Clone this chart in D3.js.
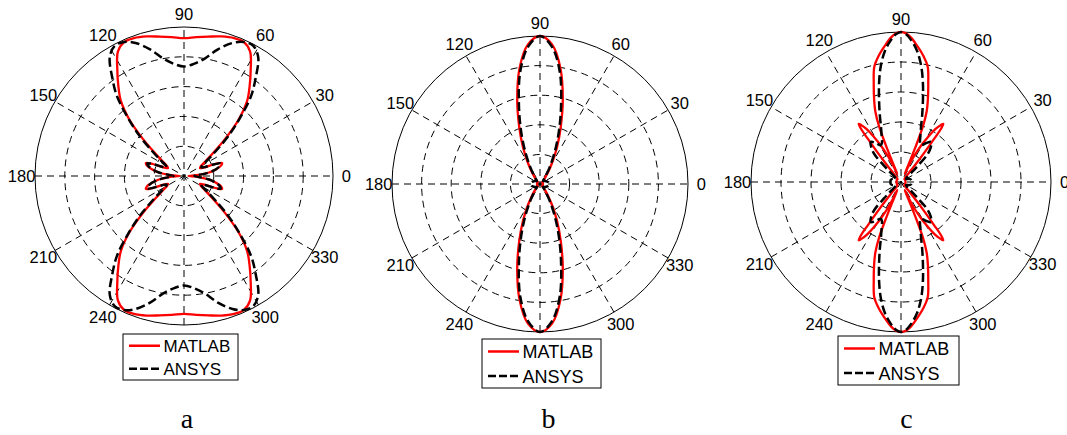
<!DOCTYPE html>
<html>
<head>
<meta charset="utf-8">
<script src="https://cdn.jsdelivr.net/npm/d3@7"></script>
<style>
  html, body { margin: 0; padding: 0; background: #fff; }
  svg { display: block; }
  .tick { font-family: "Liberation Sans", Arial, sans-serif; font-size: 16.5px; fill: #000; }
  .leg { font-family: "Liberation Sans", Arial, sans-serif; fill: #000; }
  .panel-label { font-family: "Liberation Serif", "Times New Roman", serif; font-size: 28px; fill: #000; }
</style>
</head>
<body>
<svg id="chart" width="1067" height="435"></svg>
<script>
// angle labels (270 sits under the legend) and grid rings (fraction of max radius)
const angleTicks = [0, 30, 60, 90, 120, 150, 180, 210, 240, 300, 330];
const spokeAngles = [0, 30, 60, 90, 120, 150];
const ringLevels = [0.2, 0.4, 0.6, 0.8];
const seriesNames = ["MATLAB", "ANSYS"];
const panelNames = ["a", "b", "c"];

// patterns are symmetric, values read for the first quadrant (0..90 deg)
// panel a
const aAngles = [0, 4, 8, 12, 16, 19, 21, 23, 26, 30, 34, 38, 42, 46, 50, 54, 58, 62, 66, 70, 75, 80, 85, 90];
const aMatlab = [0.03, 0.10, 0.17, 0.22, 0.26, 0.27, 0.22, 0.15, 0.12, 0.13, 0.17, 0.24, 0.37, 0.53, 0.66, 0.75, 0.845, 0.945, 0.985, 0.985, 0.97, 0.95, 0.935, 0.925];
const aAnsys  = [0.07, 0.10, 0.17, 0.22, 0.25, 0.26, 0.22, 0.16, 0.13, 0.14, 0.19, 0.27, 0.40, 0.54, 0.70, 0.82, 0.94, 0.99, 0.985, 0.95, 0.88, 0.80, 0.755, 0.735];

// panel b
const bAngles = [0, 10, 20, 30, 40, 45, 50, 55, 60, 65, 70, 75, 80, 85, 90];
const bMatlab = [0.02, 0.02, 0.02, 0.02, 0.02, 0.03, 0.05, 0.09, 0.16, 0.27, 0.41, 0.595, 0.795, 0.945, 1.0];
const bAnsys  = [0.06, 0.06, 0.05, 0.04, 0.03, 0.03, 0.04, 0.07, 0.13, 0.23, 0.37, 0.55, 0.77, 0.93, 1.0];

// panel c
const cMatlabAngles = [0, 10, 20, 30, 40, 46, 49, 50.5, 51.5, 52.5, 53, 54, 55, 57, 59, 61, 63, 64.5, 65.5, 66.5, 67.5, 68.5, 70, 72, 74.5, 77, 80, 83, 86, 88, 90];
const cMatlab       = [0.03, 0.03, 0.03, 0.03, 0.03, 0.04, 0.08, 0.16, 0.25, 0.36, 0.44, 0.48, 0.465, 0.42, 0.35, 0.28, 0.20, 0.12, 0.06, 0.10, 0.25, 0.40, 0.50, 0.58, 0.68, 0.79, 0.855, 0.91, 0.965, 0.99, 1.0];
const cAnsysAngles  = [0, 10, 20, 30, 38, 42, 44, 46, 49, 53, 57, 61, 64, 67, 70, 72.5, 75, 77.5, 80, 83, 86, 88, 90];
const cAnsys        = [0.07, 0.07, 0.06, 0.04, 0.05, 0.10, 0.16, 0.25, 0.30, 0.335, 0.31, 0.28, 0.29, 0.33, 0.39, 0.47, 0.565, 0.675, 0.78, 0.88, 0.95, 0.985, 1.0];

// layout of the three panels (centre, radius, legend box)
const panels = [
  { cx: 184, cy: 176, R: 149, lx: 123, ly: 334, lw: 115, lh: 46, fs: 17, labelX: 187,
    red: [aAngles, aMatlab], black: [aAngles, aAnsys] },
  { cx: 540, cy: 184, R: 148, lx: 482, ly: 339, lw: 119, lh: 49, fs: 18, labelX: 548.5,
    red: [bAngles, bMatlab], black: [bAngles, bAnsys] },
  { cx: 901, cy: 182, R: 150, lx: 838, ly: 336, lw: 121, lh: 49, fs: 18, labelX: 906.5,
    red: [cMatlabAngles, cMatlab], black: [cAnsysAngles, cAnsys] }
];

const svg = d3.select("#chart");
svg.append("rect").attr("width", 1067).attr("height", 435).attr("fill", "#fff");

// build the full 0..360 turn from the first quadrant values
function fullTurn(angles, radii) {
  const pts = [];
  const n = angles.length;
  for (let i = 0; i < n; i++) pts.push([angles[i], radii[i]]);
  for (let i = n - 2; i >= 0; i--) pts.push([180 - angles[i], radii[i]]);
  for (let i = 1; i < n; i++) pts.push([180 + angles[i], radii[i]]);
  for (let i = n - 2; i > 0; i--) pts.push([360 - angles[i], radii[i]]);
  return pts;
}

const rad = d => d * Math.PI / 180;

panels.forEach((p, k) => {
  const r = d3.scaleLinear().domain([0, 1]).range([0, p.R]);
  const g = svg.append("g").attr("transform", `translate(${p.cx},${p.cy})`);

  // dashed rings
  g.selectAll(".ring")
    .data(ringLevels)
    .enter()
    .append("circle")
    .attr("r", d => r(d))
    .attr("fill", "none")
    .attr("stroke", "#000")
    .attr("stroke-width", 1)
    .attr("stroke-dasharray", "7,5");

  // dashed spokes every 30 deg
  g.selectAll(".spoke")
    .data(spokeAngles)
    .enter()
    .append("line")
    .attr("x1", d => -r(1) * Math.cos(rad(d)))
    .attr("y1", d => r(1) * Math.sin(rad(d)))
    .attr("x2", d => r(1) * Math.cos(rad(d)))
    .attr("y2", d => -r(1) * Math.sin(rad(d)))
    .attr("stroke", "#000")
    .attr("stroke-width", 1)
    .attr("stroke-dasharray", "7,5");

  // outer circle
  g.append("circle")
    .attr("r", r(1))
    .attr("fill", "none")
    .attr("stroke", "#000")
    .attr("stroke-width", 1);

  // angle labels
  g.selectAll(".tick")
    .data(angleTicks)
    .enter()
    .append("text")
    .attr("class", "tick")
    .attr("x", d => r(1.09) * Math.cos(rad(d)))
    .attr("y", d => -r(1.09) * Math.sin(rad(d)))
    .attr("text-anchor", "middle")
    .attr("dominant-baseline", "central")
    .text(d => d);

  const line = d3.lineRadial()
    .angle(d => rad(90 - d[0]))
    .radius(d => r(d[1]))
    .curve(d3.curveCatmullRomClosed.alpha(0.5));

  g.append("path")
    .attr("d", line(fullTurn(p.red[0], p.red[1])))
    .attr("fill", "none")
    .attr("stroke", "#ff0000")
    .attr("stroke-width", 2.3)
    .attr("stroke-linejoin", "round");

  g.append("path")
    .attr("d", line(fullTurn(p.black[0], p.black[1])))
    .attr("fill", "none")
    .attr("stroke", "#000")
    .attr("stroke-width", 2.5)
    .attr("stroke-dasharray", "9,4");

  // legend
  const lg = svg.append("g").attr("transform", `translate(${p.lx},${p.ly})`);
  lg.append("rect")
    .attr("width", p.lw).attr("height", p.lh)
    .attr("fill", "#fff").attr("stroke", "#000").attr("stroke-width", 1);
  const rowY = [p.lh * 0.255, p.lh * 0.755];
  lg.append("line")
    .attr("x1", 6).attr("x2", 37).attr("y1", rowY[0]).attr("y2", rowY[0])
    .attr("stroke", "#ff0000").attr("stroke-width", 2.5);
  lg.append("line")
    .attr("x1", 6).attr("x2", 37).attr("y1", rowY[1]).attr("y2", rowY[1])
    .attr("stroke", "#000").attr("stroke-width", 2.5).attr("stroke-dasharray", "8,3");
  lg.selectAll(".leg")
    .data(seriesNames)
    .enter()
    .append("text")
    .attr("class", "leg")
    .attr("x", 40.5)
    .attr("y", (d, i) => rowY[i] + p.fs * 0.38)
    .style("font-size", p.fs + "px")
    .text(d => d);

  // panel letter
  svg.append("text")
    .attr("class", "panel-label")
    .attr("x", p.labelX)
    .attr("y", 427.5)
    .attr("text-anchor", "middle")
    .text(panelNames[k]);
});
</script>
</body>
</html>
